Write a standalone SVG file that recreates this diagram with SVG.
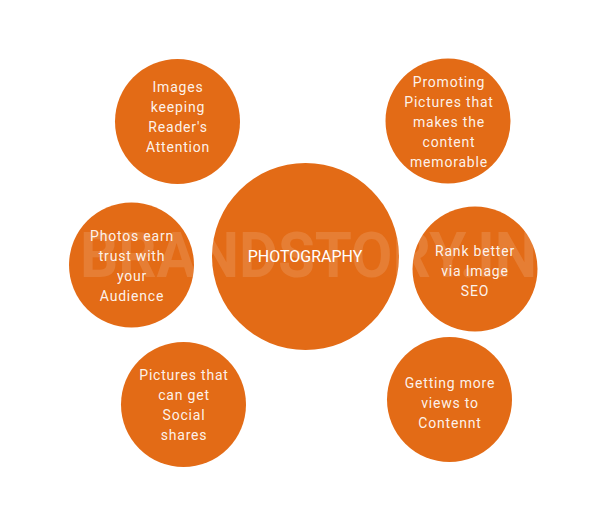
<svg xmlns="http://www.w3.org/2000/svg" width="610" height="527" viewBox="0 0 610 527">
<style>
.c{fill:#E36B16}
.t{font-family:Roboto,"Liberation Sans",sans-serif;font-size:14px;fill:#fff;fill-opacity:0.93;text-anchor:middle;letter-spacing:0.8px}
.m{font-family:Roboto,"Liberation Sans",sans-serif;font-size:16px;fill:#fff;text-anchor:middle}
.w{font-family:Roboto,"Liberation Sans",sans-serif;font-weight:bold;font-size:63px;fill:#fff;fill-opacity:0.13}
</style>
<rect width="610" height="527" fill="#fff"/>
<g id="connectors"></g>
<g id="center"><circle class="c" cx="305.5" cy="256.5" r="93.5"/></g>
<g id="n1"><circle class="c" cx="177.5" cy="121.5" r="62.5"/>
<text class="t"><tspan x="178" y="92">Images</tspan><tspan x="178" y="112">keeping</tspan><tspan x="178" y="132">Reader's</tspan><tspan x="178" y="152">Attention</tspan></text></g>
<g id="n2"><circle class="c" cx="448" cy="121" r="62.5"/>
<text class="t"><tspan x="449" y="87">Promoting</tspan><tspan x="449" y="107">Pictures that</tspan><tspan x="449" y="127">makes the</tspan><tspan x="449" y="147">content</tspan><tspan x="449" y="167">memorable</tspan></text></g>
<g id="n3"><circle class="c" cx="131.5" cy="265" r="62.5"/>
<text class="t"><tspan x="132" y="241">Photos earn</tspan><tspan x="132" y="261">trust with</tspan><tspan x="132" y="281">your</tspan><tspan x="132" y="301">Audience</tspan></text></g>
<g id="n4"><circle class="c" cx="475" cy="269" r="62.5"/>
<text class="t"><tspan x="475" y="256">Rank better</tspan><tspan x="475" y="276">via Image</tspan><tspan x="475" y="296">SEO</tspan></text></g>
<g id="n5"><circle class="c" cx="183.5" cy="404.5" r="62.5"/>
<text class="t"><tspan x="184" y="380">Pictures that</tspan><tspan x="184" y="400">can get</tspan><tspan x="184" y="420">Social</tspan><tspan x="184" y="440">shares</tspan></text></g>
<g id="n6"><circle class="c" cx="449.5" cy="399.5" r="62.5"/>
<text class="t"><tspan x="450" y="388">Getting more</tspan><tspan x="450" y="408">views to</tspan><tspan x="450" y="428">Contennt</tspan></text></g>
<text class="w" x="80" y="277" textLength="457" lengthAdjust="spacingAndGlyphs">BRANDSTORY.IN</text>
<text class="m" x="305" y="262">PHOTOGRAPHY</text>
</svg>
